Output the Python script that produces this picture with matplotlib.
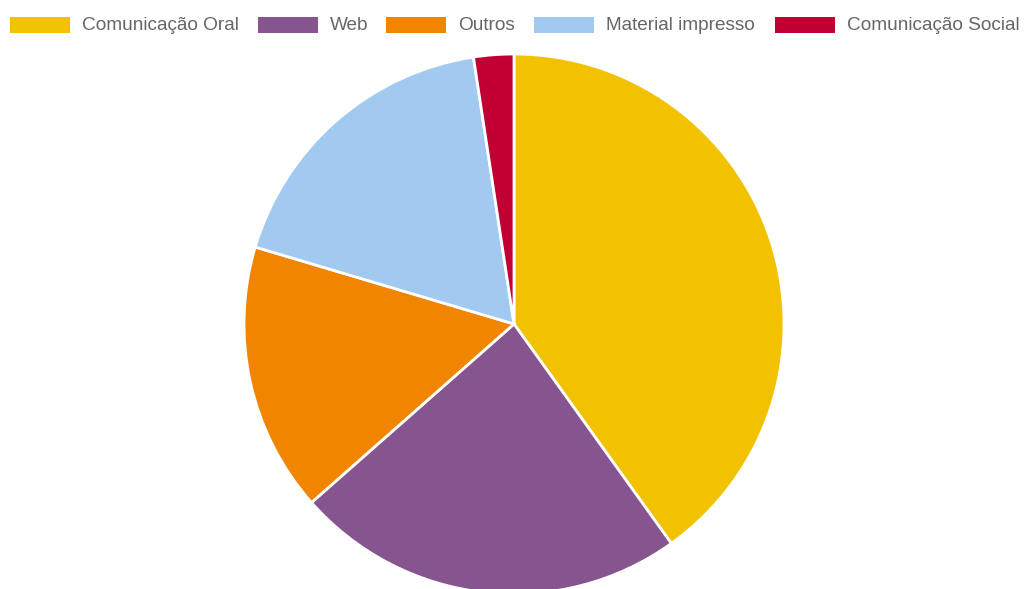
import matplotlib.pyplot as plt
from matplotlib.patches import Rectangle

labels = ["Comunicação Oral", "Web", "Outros", "Material impresso", "Comunicação Social"]
values = [40.1, 23.4, 16.1, 18.0, 2.4]
colors = ["#f2c200", "#86548f", "#f28500", "#a2caf0", "#c10033"]

W, H = 1024, 589
fig = plt.figure(figsize=(W / 100, H / 100), dpi=100)

# pie: center (514, 324) px, radius 270 px
cx, cy, r = 514, 324, 270
ax = fig.add_axes([(cx - r) / W, (H - cy - r) / H, 2 * r / W, 2 * r / H])
ax.pie(values, colors=colors, startangle=90, counterclock=False,
       wedgeprops=dict(edgecolor="white", linewidth=2))
ax.set_xlim(-1, 1)
ax.set_ylim(-1, 1)
ax.set_aspect("equal")
ax.axis("off")

# legend on top, drawn by hand
box_x = [10, 258, 386, 534, 775]
for x, lab, col in zip(box_x, labels, colors):
    fig.patches.append(Rectangle((x / W, (H - 33) / H), 60 / W, 16 / H,
                                 transform=fig.transFigure, facecolor=col,
                                 edgecolor="none"))
    fig.text((x + 72) / W, (H - 25.5) / H, lab, ha="left", va="center",
             fontsize=13.7, color="#666666", family="Liberation Sans")

fig.savefig("out.png", dpi=100)
